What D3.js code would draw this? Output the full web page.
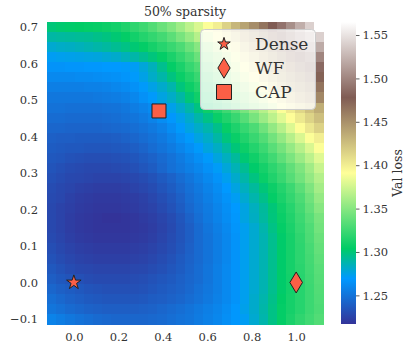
<!DOCTYPE html>
<html>
<head>
<meta charset="utf-8">
<script src="https://cdn.jsdelivr.net/npm/d3@7"></script>
<style>
  body { margin: 0; background: #fff; }
  svg { display: block; }
  text { font-family: "DejaVu Serif", serif; fill: #333; }
</style>
</head>
<body>
<svg id="chart" width="406" height="348"></svg>
<script>
// Sample positions of the loss grid (interpolation weights along each axis)
const xGrid = [-0.1, -0.0586, -0.0172, 0.0241, 0.0655, 0.1069, 0.1483, 0.1897, 0.2310, 0.2724,
  0.3138, 0.3552, 0.3966, 0.4379, 0.4793, 0.5207, 0.5621, 0.6034, 0.6448, 0.6862,
  0.7276, 0.7690, 0.8103, 0.8517, 0.8931, 0.9345, 0.9759, 1.0172, 1.0586, 1.1];
// Listed top row first
const yGrid = [0.7, 0.6724, 0.6448, 0.6172, 0.5897, 0.5621, 0.5345, 0.5069, 0.4793, 0.4517,
  0.4241, 0.3966, 0.3690, 0.3414, 0.3138, 0.2862, 0.2586, 0.2310, 0.2034, 0.1759,
  0.1483, 0.1207, 0.0931, 0.0655, 0.0379, 0.0103, -0.0172, -0.0448, -0.0724, -0.1];

// Validation loss, one array per yGrid row
const lossRows = [
  [1.300,1.302,1.303,1.304,1.305,1.306,1.308,1.310,1.315,1.320,1.325,1.332,1.340,1.348,1.358,1.368,1.378,1.390,1.400,1.415,1.430,1.440,1.452,1.465,1.478,1.490,1.505,1.522,1.540,1.565],
  [1.290,1.291,1.292,1.293,1.294,1.296,1.298,1.301,1.305,1.310,1.316,1.321,1.327,1.335,1.345,1.355,1.366,1.378,1.390,1.403,1.416,1.430,1.442,1.455,1.467,1.480,1.493,1.507,1.520,1.540],
  [1.280,1.282,1.283,1.285,1.287,1.289,1.291,1.294,1.297,1.301,1.305,1.311,1.317,1.323,1.330,1.340,1.350,1.362,1.375,1.387,1.400,1.415,1.430,1.442,1.455,1.467,1.480,1.493,1.506,1.520],
  [1.272,1.273,1.274,1.275,1.276,1.277,1.279,1.281,1.285,1.289,1.294,1.299,1.305,1.313,1.321,1.330,1.340,1.351,1.362,1.375,1.387,1.401,1.415,1.430,1.442,1.455,1.467,1.480,1.490,1.500],
  [1.266,1.266,1.267,1.267,1.268,1.268,1.269,1.269,1.270,1.272,1.278,1.285,1.295,1.305,1.313,1.322,1.330,1.342,1.354,1.366,1.378,1.390,1.405,1.420,1.433,1.443,1.454,1.465,1.476,1.485],
  [1.261,1.261,1.261,1.262,1.262,1.263,1.264,1.265,1.267,1.270,1.275,1.282,1.289,1.298,1.307,1.315,1.323,1.332,1.344,1.356,1.368,1.380,1.393,1.408,1.422,1.435,1.445,1.455,1.465,1.475],
  [1.256,1.256,1.256,1.256,1.257,1.257,1.258,1.260,1.262,1.265,1.270,1.275,1.281,1.288,1.299,1.308,1.316,1.325,1.334,1.345,1.356,1.367,1.379,1.392,1.408,1.423,1.436,1.445,1.455,1.465],
  [1.252,1.252,1.252,1.252,1.252,1.253,1.254,1.255,1.257,1.260,1.265,1.270,1.276,1.282,1.290,1.300,1.309,1.317,1.325,1.335,1.346,1.356,1.367,1.378,1.390,1.405,1.420,1.433,1.444,1.455],
  [1.249,1.249,1.248,1.248,1.248,1.248,1.249,1.250,1.252,1.255,1.258,1.262,1.268,1.274,1.281,1.289,1.298,1.308,1.316,1.325,1.335,1.345,1.356,1.366,1.377,1.390,1.402,1.413,1.424,1.435],
  [1.246,1.246,1.245,1.245,1.245,1.245,1.246,1.247,1.249,1.251,1.254,1.258,1.263,1.268,1.274,1.281,1.289,1.297,1.307,1.315,1.323,1.333,1.345,1.357,1.368,1.380,1.392,1.403,1.414,1.425],
  [1.243,1.243,1.242,1.242,1.242,1.242,1.243,1.244,1.245,1.247,1.250,1.253,1.257,1.263,1.270,1.276,1.282,1.288,1.296,1.306,1.314,1.322,1.330,1.342,1.354,1.366,1.379,1.392,1.404,1.415],
  [1.240,1.239,1.239,1.238,1.238,1.238,1.238,1.239,1.241,1.243,1.246,1.249,1.253,1.258,1.264,1.270,1.276,1.282,1.290,1.299,1.307,1.315,1.323,1.332,1.343,1.354,1.366,1.378,1.390,1.400],
  [1.238,1.237,1.236,1.236,1.235,1.235,1.235,1.236,1.237,1.239,1.242,1.246,1.250,1.254,1.259,1.264,1.270,1.277,1.283,1.291,1.300,1.308,1.316,1.324,1.334,1.344,1.355,1.366,1.378,1.390],
  [1.236,1.235,1.233,1.232,1.231,1.231,1.231,1.232,1.233,1.235,1.238,1.241,1.245,1.249,1.254,1.259,1.264,1.270,1.277,1.284,1.292,1.301,1.309,1.318,1.326,1.336,1.346,1.357,1.368,1.380],
  [1.234,1.232,1.230,1.229,1.228,1.228,1.228,1.229,1.230,1.232,1.235,1.238,1.243,1.248,1.252,1.256,1.260,1.265,1.271,1.278,1.286,1.294,1.303,1.311,1.319,1.327,1.337,1.347,1.359,1.372],
  [1.232,1.230,1.228,1.227,1.226,1.225,1.225,1.225,1.226,1.228,1.230,1.233,1.237,1.241,1.246,1.251,1.256,1.261,1.266,1.273,1.281,1.289,1.298,1.307,1.315,1.323,1.333,1.343,1.354,1.365],
  [1.230,1.228,1.226,1.224,1.223,1.222,1.222,1.222,1.223,1.225,1.227,1.230,1.234,1.238,1.243,1.248,1.253,1.258,1.263,1.269,1.276,1.284,1.292,1.300,1.308,1.316,1.324,1.335,1.347,1.360],
  [1.229,1.227,1.224,1.222,1.221,1.220,1.220,1.220,1.221,1.222,1.224,1.227,1.231,1.235,1.240,1.246,1.251,1.256,1.261,1.266,1.272,1.280,1.288,1.296,1.305,1.313,1.321,1.330,1.342,1.355],
  [1.228,1.225,1.223,1.221,1.220,1.219,1.219,1.219,1.220,1.221,1.223,1.225,1.229,1.233,1.238,1.244,1.249,1.254,1.259,1.264,1.269,1.276,1.284,1.292,1.300,1.309,1.317,1.327,1.338,1.350],
  [1.228,1.225,1.222,1.220,1.219,1.218,1.217,1.217,1.218,1.219,1.221,1.223,1.226,1.230,1.235,1.241,1.247,1.253,1.258,1.263,1.268,1.276,1.283,1.291,1.299,1.307,1.315,1.324,1.334,1.345],
  [1.228,1.225,1.222,1.220,1.219,1.218,1.218,1.218,1.218,1.219,1.220,1.222,1.225,1.229,1.234,1.239,1.245,1.251,1.256,1.261,1.267,1.273,1.280,1.288,1.297,1.305,1.313,1.322,1.331,1.343],
  [1.229,1.226,1.223,1.221,1.220,1.219,1.219,1.219,1.219,1.220,1.221,1.223,1.226,1.230,1.234,1.239,1.245,1.250,1.255,1.260,1.266,1.273,1.280,1.287,1.295,1.303,1.311,1.320,1.330,1.340],
  [1.231,1.228,1.225,1.223,1.222,1.221,1.221,1.221,1.221,1.222,1.223,1.225,1.228,1.231,1.235,1.240,1.245,1.250,1.255,1.260,1.266,1.273,1.280,1.287,1.295,1.303,1.311,1.319,1.328,1.338],
  [1.233,1.230,1.227,1.225,1.224,1.223,1.223,1.223,1.223,1.224,1.225,1.227,1.230,1.233,1.237,1.241,1.245,1.250,1.255,1.260,1.266,1.273,1.280,1.287,1.295,1.303,1.311,1.319,1.327,1.336],
  [1.236,1.233,1.230,1.228,1.227,1.226,1.226,1.226,1.226,1.227,1.228,1.230,1.232,1.235,1.238,1.242,1.246,1.251,1.256,1.261,1.266,1.273,1.280,1.287,1.295,1.303,1.311,1.318,1.326,1.334],
  [1.239,1.236,1.234,1.232,1.230,1.229,1.229,1.229,1.229,1.230,1.231,1.233,1.235,1.237,1.240,1.243,1.246,1.251,1.256,1.261,1.266,1.273,1.280,1.287,1.295,1.303,1.310,1.317,1.325,1.333],
  [1.243,1.240,1.238,1.236,1.234,1.233,1.232,1.232,1.232,1.232,1.233,1.235,1.237,1.239,1.241,1.244,1.248,1.252,1.256,1.261,1.266,1.273,1.280,1.287,1.295,1.303,1.310,1.317,1.324,1.332],
  [1.247,1.244,1.241,1.239,1.237,1.236,1.235,1.235,1.235,1.235,1.236,1.238,1.239,1.241,1.243,1.246,1.249,1.253,1.257,1.261,1.266,1.273,1.281,1.288,1.296,1.304,1.311,1.317,1.324,1.331],
  [1.251,1.248,1.245,1.243,1.241,1.240,1.239,1.239,1.239,1.239,1.240,1.241,1.243,1.245,1.247,1.250,1.253,1.256,1.259,1.263,1.268,1.274,1.281,1.289,1.297,1.305,1.311,1.317,1.324,1.330],
  [1.258,1.255,1.252,1.249,1.247,1.245,1.244,1.243,1.243,1.243,1.243,1.244,1.245,1.247,1.249,1.251,1.254,1.257,1.260,1.264,1.268,1.272,1.280,1.288,1.297,1.305,1.313,1.320,1.326,1.332]
];

// Marked solutions
const methodNames = ["Dense", "WF", "CAP"];
const methodX = [0.0, 1.0, 0.383];
const methodY = [0.0, 0.0, 0.470];
const methodShapes = ["star", "diamond", "square"];

const xTicks = [0.0, 0.2, 0.4, 0.6, 0.8, 1.0];
const yTicks = [-0.1, 0.0, 0.1, 0.2, 0.3, 0.4, 0.5, 0.6, 0.7];
const cbarTicks = [1.25, 1.30, 1.35, 1.40, 1.45, 1.50, 1.55];

const title = "50% sparsity";
const cbarLabel = "Val loss";

// matplotlib "terrain" colormap anchors
const terrainPos = [0.00, 0.15, 0.25, 0.50, 0.75, 1.00];
const terrainCol = ["rgb(51,51,153)", "rgb(0,153,255)", "rgb(0,204,102)",
                    "rgb(255,255,153)", "rgb(128,92,84)", "rgb(255,255,255)"];

const svg = d3.select("#chart");
const plot = { left: 47, right: 323, top: 22, bottom: 324 };
const markerFill = "#fb5f46";

const dx = xGrid[1] - xGrid[0];
const dy = yGrid[0] - yGrid[1];
const x = d3.scaleLinear()
  .domain([d3.min(xGrid) - dx / 2, d3.max(xGrid) + dx / 2])
  .range([plot.left, plot.right]);
const y = d3.scaleLinear()
  .domain([d3.min(yGrid) - dy / 2, d3.max(yGrid) + dy / 2])
  .range([plot.bottom, plot.top]);

const allLoss = lossRows.flat();
const [vmin, vmax] = d3.extent(allLoss);
const color = d3.scaleLinear()
  .domain(terrainPos.map(t => vmin + t * (vmax - vmin)))
  .range(terrainCol)
  .interpolate(d3.interpolateRgb)
  .clamp(true);

// Heatmap cells
const cells = [];
lossRows.forEach((row, i) => row.forEach((v, j) => cells.push({ xv: xGrid[j], yv: yGrid[i], v })));
svg.append("g")
  .attr("shape-rendering", "crispEdges")
  .selectAll("rect")
  .data(cells)
  .join("rect")
  .attr("x", d => x(d.xv - dx / 2))
  .attr("y", d => y(d.yv + dy / 2))
  .attr("width", d => x(d.xv + dx / 2) - x(d.xv - dx / 2) + 0.5)
  .attr("height", d => y(d.yv - dy / 2) - y(d.yv + dy / 2) + 0.5)
  .attr("fill", d => color(d.v));

// Axes (labels only, no tick marks or spines)
const xAxis = svg.append("g")
  .attr("transform", `translate(0,${plot.bottom})`)
  .call(d3.axisBottom(x).tickValues(xTicks).tickFormat(d3.format(".1f")).tickSize(0).tickPadding(9));
const yAxis = svg.append("g")
  .attr("transform", `translate(${plot.left},0)`)
  .call(d3.axisLeft(y).tickValues(yTicks).tickFormat(d => d3.format(".1f")(d).replace("-", "\u2212")).tickSize(0).tickPadding(9));
[xAxis, yAxis].forEach(g => {
  g.select(".domain").remove();
  g.selectAll("text").attr("font-family", "DejaVu Serif").attr("font-size", 11.5).attr("fill", "#333");
});

// Title
svg.append("text")
  .attr("x", (plot.left + plot.right) / 2)
  .attr("y", 16)
  .attr("text-anchor", "middle")
  .attr("font-size", 12.5)
  .text(title);

// Markers
const markerPath = {
  star: r => d3.symbol(d3.symbolStar, r * r / 0.8908)(),
  square: s => `M${-s/2},${-s/2}H${s/2}V${s/2}H${-s/2}Z`,
  diamond: h => `M0,${-h}L${h*0.6},0L0,${h}L${-h*0.6},0Z`
};
const plotSize = { star: 7.6, square: 14, diamond: 10.5 };
const legendSize = { star: 6.6, square: 15, diamond: 10.2 };

svg.append("g").selectAll("path")
  .data(methodNames.map((n, i) => ({ n, xv: methodX[i], yv: methodY[i], shape: methodShapes[i] })))
  .join("path")
  .attr("transform", d => `translate(${x(d.xv)},${y(d.yv)})`)
  .attr("d", d => markerPath[d.shape](plotSize[d.shape]))
  .attr("fill", markerFill)
  .attr("stroke", "#222")
  .attr("stroke-width", 1);

// Legend
const lg = svg.append("g").attr("transform", "translate(200,29)");
lg.append("rect")
  .attr("x", 0.5).attr("y", 0.5)
  .attr("width", 115).attr("height", 80)
  .attr("rx", 4)
  .attr("fill", "#fff").attr("fill-opacity", 0.8)
  .attr("stroke", "#ccc").attr("stroke-width", 1);
methodNames.forEach((n, i) => {
  const cy = 15 + i * 24;
  lg.append("path")
    .attr("transform", `translate(24,${cy})`)
    .attr("d", markerPath[methodShapes[i]](legendSize[methodShapes[i]]))
    .attr("fill", markerFill)
    .attr("stroke", "#222")
    .attr("stroke-width", 1);
  lg.append("text")
    .attr("x", 55)
    .attr("y", cy + 6)
    .attr("font-size", 17)
    .attr("fill", "#262626")
    .text(n);
});

// Colorbar
const cbar = { x: 341, w: 15 };
const cy = d3.scaleLinear().domain([vmin, vmax]).range([plot.bottom, plot.top]);
const defs = svg.append("defs");
const grad = defs.append("linearGradient")
  .attr("id", "terrain-grad")
  .attr("x1", 0).attr("y1", 1).attr("x2", 0).attr("y2", 0);
terrainPos.forEach((t, i) => grad.append("stop").attr("offset", t).attr("stop-color", terrainCol[i]));
svg.append("rect")
  .attr("x", cbar.x).attr("y", plot.top)
  .attr("width", cbar.w).attr("height", plot.bottom - plot.top)
  .attr("fill", "url(#terrain-grad)");
const cAxis = svg.append("g")
  .attr("transform", `translate(${cbar.x + cbar.w},0)`)
  .call(d3.axisRight(cy).tickValues(cbarTicks).tickFormat(d3.format(".2f")).tickSize(3.5).tickPadding(3));
cAxis.select(".domain").remove();
cAxis.selectAll("line").attr("stroke", "#333").attr("stroke-width", 0.8);
cAxis.selectAll("text").attr("font-family", "DejaVu Serif").attr("font-size", 11.5).attr("fill", "#333");

svg.append("text")
  .attr("transform", `translate(402,${(plot.top + plot.bottom) / 2}) rotate(-90)`)
  .attr("text-anchor", "middle")
  .attr("font-size", 12.5)
  .text(cbarLabel);
</script>
</body>
</html>
